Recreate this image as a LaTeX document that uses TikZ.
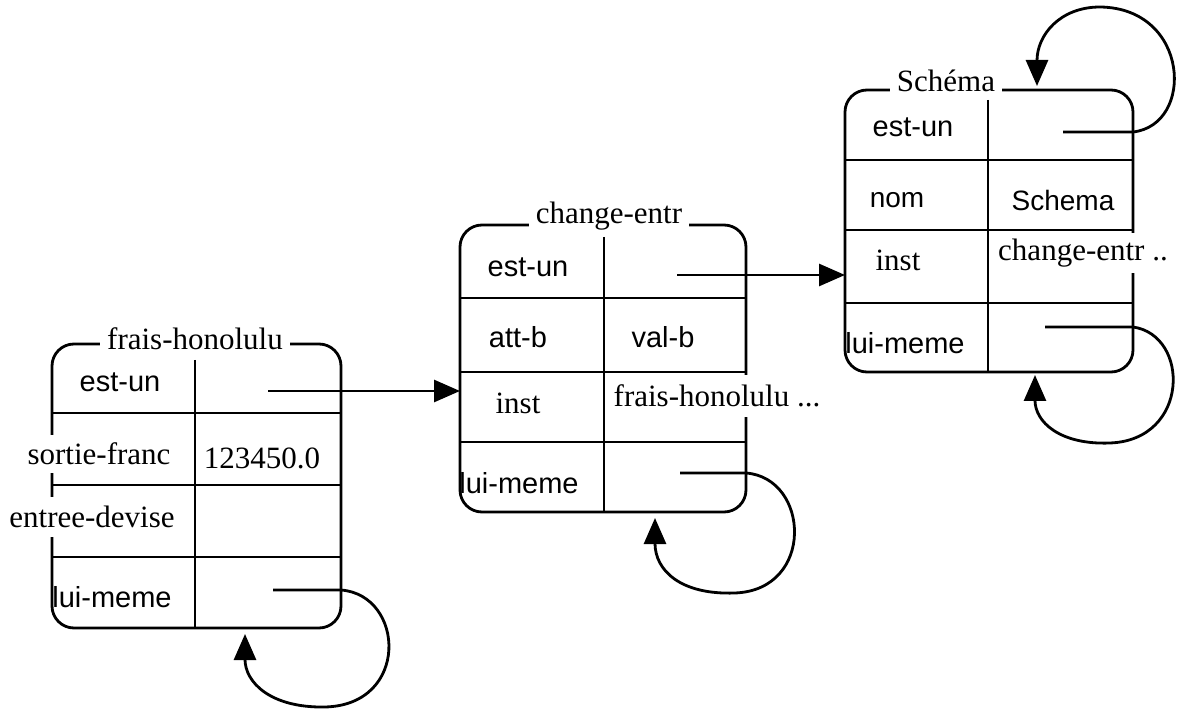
\documentclass[tikz,border=0pt]{standalone}
\usepackage{fontspec}
\setmainfont{Liberation Serif}
\setsansfont{Liberation Sans}
\usetikzlibrary{arrows.meta}

\begin{document}
\begin{tikzpicture}[x=1pt, y=-1pt,
  line width=2.8pt,
  frame/.style={draw, rounded corners=22pt, inner sep=0pt, outer sep=0pt},
  ser/.style={font=\fontsize{31}{36}\selectfont\rmfamily, inner sep=0pt},
  san/.style={font=\fontsize{29}{34}\selectfont\sffamily, inner sep=0pt},
  sansm/.style={font=\fontsize{28}{33}\selectfont\sffamily, inner sep=0pt},
  blank/.style={fill=white, inner xsep=3pt},
  title/.style={ser, fill=white, inner xsep=7pt, inner ysep=1pt},
  tip/.style={-{Triangle[length=26pt,width=22pt]}},
]
\useasboundingbox (0,0) rectangle (1179,711);

% ---- frames ----
\node[frame, minimum width=289pt, minimum height=284pt] (fh) at (196.5,486) {};
\node[frame, minimum width=286pt, minimum height=287pt] (ce) at (603,368.5) {};
\node[frame, minimum width=288pt, minimum height=282pt] (sc) at (989,231) {};

% ---- rows and column dividers ----
\foreach \y in {413,485,557} \draw (fh.west |- 0,\y) -- (fh.east |- 0,\y);
\draw (195,360) -- (fh.south -| 195,0);
\foreach \y in {298,372,442} \draw (ce.west |- 0,\y) -- (ce.east |- 0,\y);
\draw (604,237) -- (ce.south -| 604,0);
\foreach \y in {160,230,303} \draw (sc.west |- 0,\y) -- (sc.east |- 0,\y);
\draw (988,100) -- (sc.south -| 988,0);

% ---- est-un links ----
\coordinate (fh-isa) at (268,391);
\draw[tip] (fh-isa) -- (ce.west |- fh-isa);
\coordinate (ce-isa) at (677,275);
\draw[tip] (ce-isa) -- (sc.west |- ce-isa);
\coordinate (sc-isa) at (1063,132);
\coordinate (sc-up) at (1037,86);
\draw[tip] (sc-isa) -- (sc.east |- sc-isa)
  .. controls (1195,125) and (1190,8) .. (1100,7)
  .. controls (1060,7) and (1037,35) .. (sc-up);

% ---- lui-meme loops ----
\coordinate (fh-self) at (273,590);
\coordinate (fh-back) at (245,634);
\draw[tip] (fh-self) -- (fh.east |- fh-self)
  .. controls (405,595) and (410,705) .. (325,707)
  .. controls (270,708) and (245,682) .. (fh-back);
\coordinate (ce-self) at (680,473);
\coordinate (ce-back) at (655,518);
\draw[tip] (ce-self) -- (ce.east |- ce-self)
  .. controls (810,478) and (815,590) .. (735,593)
  .. controls (680,595) and (655,570) .. (ce-back);
\coordinate (sc-self) at (1045,327);
\coordinate (sc-back) at (1035,375);
\draw[tip] (sc-self) -- (sc.east |- sc-self)
  .. controls (1190,335) and (1190,440) .. (1110,443)
  .. controls (1060,445) and (1035,422) .. (sc-back);

% ---- titles ----
\node[title] (fh-t) at (195,339) {frais-honolulu};
\node[title] (ce-t) at (609,216) {change-entr};
\node[title] (sc-t) at (946,81) {Schéma};

% ---- frais-honolulu slots ----
\node[san] (fh-a1) at (120,382) {est-un};
\node[ser, blank, minimum height=38pt] (fh-a2) at (99,454) {sortie-franc};
\node[ser] (fh-v2) at (262,458) {123450.0};
\node[ser, blank, minimum height=40pt] (fh-a3) at (92,517) {entree-devise};
\node[san] (fh-a4) at (112,597) {lui-meme};

% ---- change-entr slots ----
\node[san] (ce-a1) at (528,267) {est-un};
\node[san] (ce-a2) at (518,337) {att-b};
\node[san] (ce-v2) at (663,337) {val-b};
\node[ser] (ce-a3) at (518,403) {inst};
\node[ser, blank, minimum height=42pt] (ce-v3) at (717,396) {frais-honolulu ...};
\node[san] (ce-a4) at (519,483) {lui-meme};

% ---- Schéma slots ----
\node[san] (sc-a1) at (913,127) {est-un};
\node[sansm] (sc-a2) at (897,200) {nom};
\node[sansm] (sc-v2) at (1063,200) {Schema};
\node[ser] (sc-a3) at (898,260) {inst};
\node[ser, blank, minimum height=40pt] (sc-v3) at (1083,253) {change-entr ..};
\node[san] (sc-a4) at (905,343) {lui-meme};
\end{tikzpicture}
\end{document}
